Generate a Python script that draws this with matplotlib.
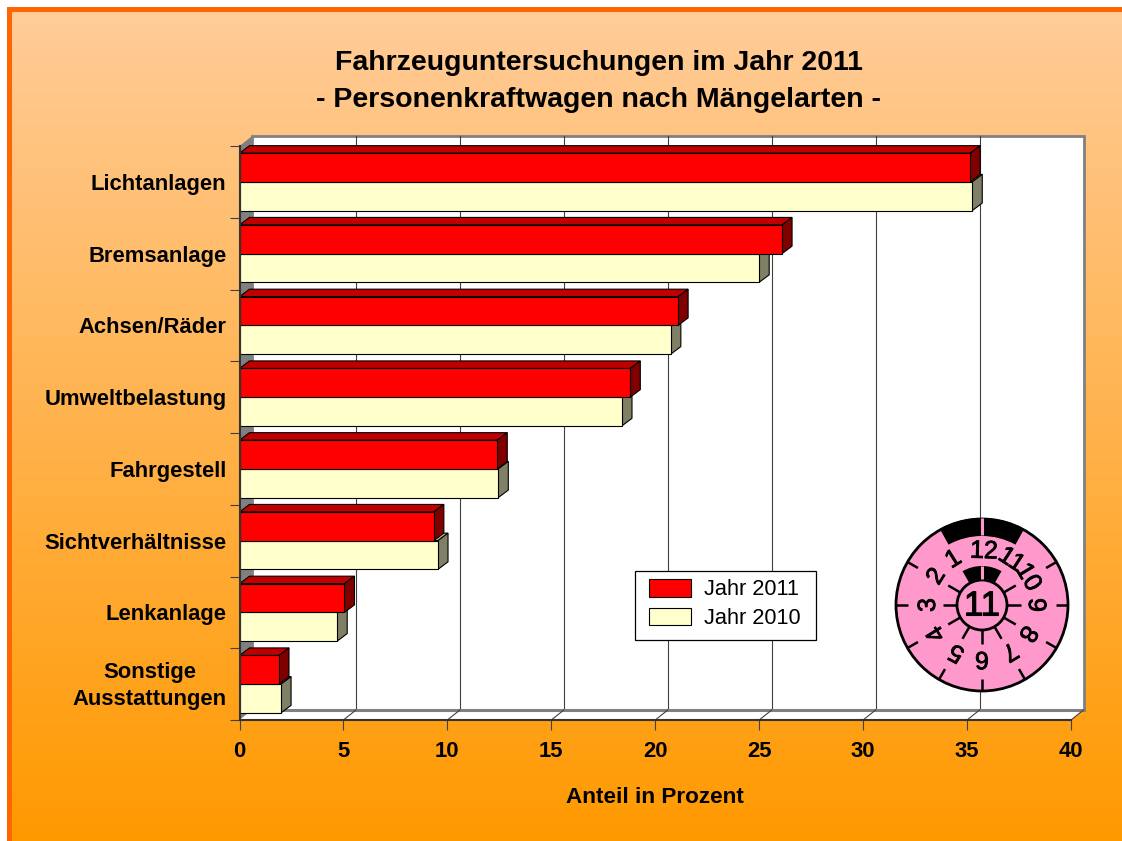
import numpy as np
import matplotlib.pyplot as plt
import matplotlib.patheffects as pe
from matplotlib.patches import Patch, Wedge, Circle, Polygon, Rectangle
from matplotlib.colors import LinearSegmentedColormap
from matplotlib.transforms import ScaledTranslation

plt.rcParams['font.family'] = ['Liberation Sans', 'DejaVu Sans']

# Daten
kategorien = ["Lichtanlagen", "Bremsanlage", "Achsen/Räder", "Umweltbelastung",
              "Fahrgestell", "Sichtverhältnisse", "Lenkanlage", "Sonstige\nAusstattungen"]
jahr_2011 = [35.15, 26.1, 21.1, 18.8, 12.4, 9.35, 5.05, 1.9]
jahr_2010 = [35.25, 25.0, 20.75, 18.4, 12.45, 9.55, 4.7, 2.0]
x_ticks = [0, 5, 10, 15, 20, 25, 30, 35, 40]
plakette_zahlen = [12, 11, 10, 9, 8, 7, 6, 5, 4, 3, 2, 1]
plakette_winkel = [2, 33, 59, 90, 122, 149, 180, 208, 238, 270, 302, 328]
plakette_striche = [60, 90, 120, 150, 180, 210, 240, 270, 300]

W, H = 1122, 841
fig = plt.figure(figsize=(W / 100, H / 100), dpi=100, facecolor='white')

# Hintergrund in Pixelkoordinaten
bg = fig.add_axes([0, 0, 1, 1], zorder=0)
bg.set_xlim(0, W)
bg.set_ylim(H, 0)
bg.axis('off')
cmap = LinearSegmentedColormap.from_list('verlauf', ['#FFCC99', '#FF9900'])
bg.imshow(np.linspace(0, 1, 256).reshape(-1, 1), cmap=cmap, aspect='auto',
          extent=(7, W, H, 7), zorder=0)
bg.set_xlim(0, W)
bg.set_ylim(H, 0)
bg.add_patch(Rectangle((7, 7), W - 7, 5, color='#FF6600', lw=0, zorder=1))
bg.add_patch(Rectangle((7, 7), 5, H - 7, color='#FF6600', lw=0, zorder=1))

bg.text(599, 63, "Fahrzeuguntersuchungen im Jahr 2011", ha='center', va='center',
        fontsize=20.5, fontweight='bold', color='black')
bg.text(599, 100, "- Personenkraftwagen nach Mängelarten -", ha='center', va='center',
        fontsize=20.5, fontweight='bold', color='black')

# Diagramm (vordere Ebene)
links, rechts, oben, unten = 239.5, 1071, 146, 720
ax = fig.add_axes([links / W, 1 - unten / H, (rechts - links) / W, (unten - oben) / H], zorder=1)
ax.set_xlim(0, 40)
ax.set_ylim(8, 0)
ax.patch.set_alpha(0)

px_x = 40 / (rechts - links)
px_y = 8 / (unten - oben)
wand_dx, wand_dy = 12.5 * px_x, 10 * px_y
balken_dx, balken_dy = 10 * px_x, 7.5 * px_y
hoehe = 28.7 * px_y

# Rueckwand, Seitenwand, Boden
ax.add_patch(Polygon([(0, 0), (wand_dx, -wand_dy), (wand_dx, 8 - wand_dy), (0, 8)],
                     fc='#808080', ec='none', clip_on=False, zorder=1))
ax.add_patch(Rectangle((wand_dx, -wand_dy), 40, 8, fc='white', ec='#808080', lw=2,
                       clip_on=False, zorder=1))
ax.add_patch(Polygon([(0, 8), (40, 8), (40 + wand_dx, 8 - wand_dy), (wand_dx, 8 - wand_dy)],
                     fc='white', ec='none', clip_on=False, zorder=1.5))
ax.plot([wand_dx, 40 + wand_dx], [8 - wand_dy] * 2, color='#808080', lw=2.2,
        clip_on=False, zorder=1.6)
for t in x_ticks[1:-1]:
    ax.plot([t + wand_dx, t + wand_dx], [-wand_dy, 8 - wand_dy], color='#404040', lw=0.8,
            clip_on=False, zorder=1.4)
for t in x_ticks[1:]:
    ax.plot([t, t + wand_dx], [8, 8 - wand_dy], color='#404040', lw=0.8,
            clip_on=False, zorder=1.7)

# Balken mit 3D-Tiefe
y_pos = np.arange(len(kategorien)) + 0.5


def quader(wert, y_oben, farbe, farbe_oben, farbe_seite):
    ax.fill([0, wert, wert + balken_dx, balken_dx],
            [y_oben, y_oben, y_oben - balken_dy, y_oben - balken_dy],
            fc=farbe_oben, ec='black', lw=0.8, zorder=2, clip_on=False)
    ax.fill([wert, wert + balken_dx, wert + balken_dx, wert],
            [y_oben, y_oben - balken_dy, y_oben + hoehe - balken_dy, y_oben + hoehe],
            fc=farbe_seite, ec='black', lw=0.8, zorder=2, clip_on=False)


for i in range(len(kategorien)):
    quader(jahr_2010[i], y_pos[i], '#FFFFCC', '#C0C099', '#808066')
for i in range(len(kategorien)):
    quader(jahr_2011[i], y_pos[i] - hoehe, '#FF0000', '#C00000', '#800000')

ax.barh(y_pos + hoehe / 2, jahr_2010, height=hoehe, color='#FFFFCC', edgecolor='black',
        linewidth=0.8, zorder=3)
ax.barh(y_pos - hoehe / 2, jahr_2011, height=hoehe, color='#FF0000', edgecolor='black',
        linewidth=0.8, zorder=3)

# Achsen
for s in ['top', 'right']:
    ax.spines[s].set_visible(False)
for s in ['left', 'bottom']:
    ax.spines[s].set_color('#333333')
    ax.spines[s].set_linewidth(1.5)
    ax.spines[s].set_zorder(4)
ax.set_xticks(x_ticks)
ax.set_xticklabels([str(t) for t in x_ticks], fontsize=15.8, fontweight='bold')
ax.tick_params(axis='x', length=7, width=0.8, color='#404040', pad=8)
ax.set_yticks(y_pos)
ax.set_yticklabels(kategorien, fontsize=15.8, fontweight='bold', multialignment='center',
                   linespacing=1.42)
ax.tick_params(axis='y', which='major', length=0, pad=9.3)
ax.set_yticks(np.arange(0, 9), minor=True)
ax.tick_params(axis='y', which='minor', length=7, width=0.8, color='#404040')
# zweizeiliges Label sitzt sonst etwas zu tief
letztes = ax.get_yticklabels()[-1]
letztes.set_transform(letztes.get_transform() + ScaledTranslation(0, 4 / 100, fig.dpi_scale_trans))
ax.set_xlabel("Anteil in Prozent", fontsize=16.2, fontweight='bold')
ax.xaxis.set_label_coords((655 - links) / (rechts - links), -(796 - unten - 9) / (unten - oben))

# Legende: Rahmen separat, damit die Abstaende passen
ax.add_patch(Rectangle(((635 - links) * px_x, (571 - oben) * px_y), 181 * px_x, 69 * px_y,
                       fc='white', ec='black', lw=0.9, zorder=4.9))
griffe = [Patch(fc='#FF0000', ec='black', lw=0.8, label='Jahr 2011'),
          Patch(fc='#FFFFCC', ec='black', lw=0.8, label='Jahr 2010')]
leg = ax.legend(handles=griffe, loc='lower left',
                bbox_to_anchor=((649 - links) / (rechts - links), (unten - 629) / (unten - oben)),
                fontsize=15.7, frameon=False, borderaxespad=0, handlelength=1.93,
                handleheight=0.88, handletextpad=0.6, labelspacing=0.34, borderpad=0)
leg.set_zorder(5)

# Pruefplakette
ov = fig.add_axes([0, 0, 1, 1], zorder=2)
ov.set_xlim(0, W)
ov.set_ylim(H, 0)
ov.axis('off')
ov.patch.set_alpha(0)
cx, cy = 982, 605
rosa = '#FF99CC'
ov.add_patch(Circle((cx, cy), 86, fc=rosa, ec='black', lw=2))


def strich(theta, r1, r2, farbe='black', lw=1.8):
    t = np.deg2rad(theta)
    ov.plot([cx + r1 * np.sin(t), cx + r2 * np.sin(t)],
            [cy - r1 * np.cos(t), cy - r2 * np.cos(t)], color=farbe, lw=lw, solid_capstyle='butt')


# y-Achse ist invertiert, daher Winkel um die Oberseite spiegeln
ov.add_patch(Wedge((cx, cy), 87, 241, 299, width=18, fc='black', ec='none'))
ov.add_patch(Wedge((cx, cy), 39, 240, 300, width=13, fc='black', ec='none'))
strich(0, 70, 87, rosa, 2.2)
strich(0, 26, 39, rosa, 2.2)
for th in plakette_striche:
    strich(th, 74, 86)
    strich(th, 25, 39)
ov.add_patch(Circle((cx, cy), 25, fc=rosa, ec='black', lw=2))
dick = [pe.withStroke(linewidth=0.6, foreground='black')]
ov.text(cx, cy + 1, "11", ha='center', va='center', fontsize=25, color='black',
        path_effects=[pe.withStroke(linewidth=0.8, foreground='black')])
for zahl, th in zip(plakette_zahlen, plakette_winkel):
    t = np.deg2rad(th)
    r = 54
    ov.text(cx + r * np.sin(t), cy - r * np.cos(t), str(zahl), ha='center', va='center',
            rotation=-th, rotation_mode='anchor', fontsize=18, color='black',
            path_effects=dick)

fig.savefig('out.png', dpi=100)
